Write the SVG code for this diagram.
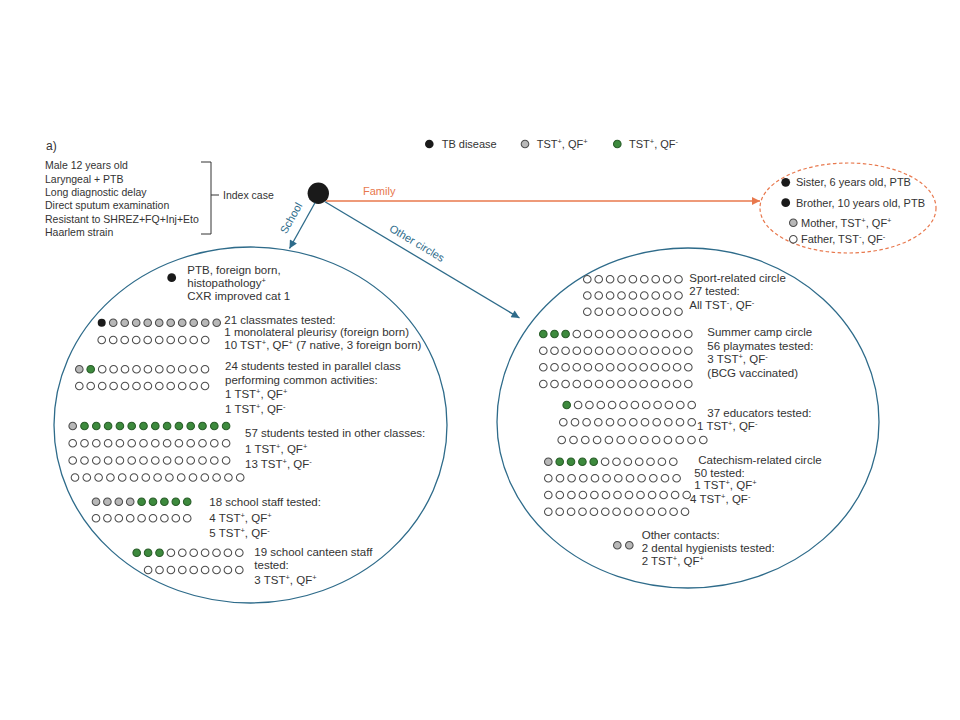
<svg xmlns="http://www.w3.org/2000/svg" xmlns:xlink="http://www.w3.org/1999/xlink" width="960" height="720" viewBox="0 0 960 720">
<style>
.t{font-family:"Liberation Sans",Arial,sans-serif;font-size:11.5px;fill:#333}
.s{font-family:"Liberation Sans",Arial,sans-serif;font-size:10.5px;fill:#333}
.f{font-size:11px}
.sup{font-size:7.5px}
.blue{fill:#2e6b8a}
.orange{fill:#e8784d}
.ring{fill:none;stroke:#2e6b8a;stroke-width:1.3}
.conn{fill:none;stroke-width:1.3}
</style>
<defs>
<circle id="o" r="3.8" fill="#fff" stroke="#4d4d4d" stroke-width="1.05"/>
<circle id="g" r="3.8" fill="#b8b8b8" stroke="#4d4d4d" stroke-width="1.05"/>
<circle id="n" r="3.8" fill="#3d8a3d" stroke="#2a5e2a" stroke-width="1.05"/>
<circle id="b" r="4" fill="#1a1a1a"/>
<marker id="ab" viewBox="0 0 10 10" refX="10" refY="5" markerWidth="9" markerHeight="8" markerUnits="userSpaceOnUse" orient="auto"><path d="M0,0 L10,5 L0,10 z" fill="#2e6b8a"/></marker>
<marker id="ao" viewBox="0 0 10 10" refX="10" refY="5" markerWidth="9" markerHeight="8" markerUnits="userSpaceOnUse" orient="auto"><path d="M0,0 L10,5 L0,10 z" fill="#e8784d"/></marker>
</defs>
<rect width="960" height="720" fill="#fff"/>

<g id="legend">
<text class="t" x="46" y="150" style="font-size:12px">a)</text>
<circle cx="429.3" cy="144" r="4.3" fill="#1a1a1a"/>
<text class="t f" x="441.7" y="148">TB disease</text>
<use href="#g" x="525" y="144"/>
<text class="t f" x="536.7" y="148">TST<tspan class="sup" dy="-4">+</tspan><tspan dy="4">, QF</tspan><tspan class="sup" dy="-4">+</tspan></text>
<use href="#n" x="617.3" y="144"/>
<text class="t f" x="629" y="148">TST<tspan class="sup" dy="-4">+</tspan><tspan dy="4">, QF</tspan><tspan class="sup" dy="-4">-</tspan></text>
</g>

<g id="index-case">
<text class="s" x="45" y="169.4">Male 12 years old</text>
<text class="s" x="45" y="182.7">Laryngeal + PTB</text>
<text class="s" x="45" y="196">Long diagnostic delay</text>
<text class="s" x="45" y="209.4">Direct sputum examination</text>
<text class="s" x="45" y="222.7">Resistant to SHREZ+FQ+Inj+Eto</text>
<text class="s" x="45" y="236">Haarlem strain</text>
<path d="M201,162 H211 V234 H201 M211,195 H219" fill="none" stroke="#333" stroke-width="1"/>
<text class="s" x="223" y="199">Index case</text>
<circle cx="318.3" cy="193.3" r="10.7" fill="#1a1a1a"/>
</g>

<g id="connectors">
<line class="conn" x1="326" y1="201" x2="760" y2="201" stroke="#e8784d" marker-end="url(#ao)"/>
<line class="conn" x1="315" y1="202.7" x2="289.5" y2="248.5" stroke="#2e6b8a" marker-end="url(#ab)"/>
<line class="conn" x1="325" y1="201.7" x2="519.5" y2="318" stroke="#2e6b8a" marker-end="url(#ab)"/>
<text class="t f orange" x="363" y="195">Family</text>
<text class="t f blue" transform="translate(291,218) rotate(-60.6)" x="0" y="4" text-anchor="middle">School</text>
<text class="t f blue" transform="translate(417,243) rotate(30.8)" x="0" y="4" text-anchor="middle">Other circles</text>
</g>

<g id="family">
<ellipse cx="848" cy="208" rx="88" ry="45" fill="none" stroke="#e8784d" stroke-width="1.2" stroke-dasharray="3.5 2.5"/>
<circle cx="785.7" cy="182.3" r="4.4" fill="#1a1a1a"/>
<text class="t f" x="796" y="186">Sister, 6 years old, PTB</text>
<circle cx="785.7" cy="202.7" r="4.4" fill="#1a1a1a"/>
<text class="t f" x="796" y="206.5">Brother, 10 years old, PTB</text>
<use href="#g" x="793.3" y="222.7"/>
<text class="t f" x="801" y="226.8">Mother, TST<tspan class="sup" dy="-4">+</tspan><tspan dy="4">, QF</tspan><tspan class="sup" dy="-4">+</tspan></text>
<use href="#o" x="793.3" y="239.3"/>
<text class="t f" x="801" y="243.4">Father, TST<tspan class="sup" dy="-4">-</tspan><tspan dy="4">, QF</tspan><tspan class="sup" dy="-4">-</tspan></text>
</g>

<g id="school">
<ellipse class="ring" cx="250.5" cy="425" rx="196.5" ry="178"/>
<circle cx="171.7" cy="277.7" r="4.4" fill="#1a1a1a"/>
<text class="t" x="187.3" y="273.5">PTB, foreign born,</text>
<text class="t" x="187.3" y="286.7">histopathology<tspan class="sup" dy="-4">+</tspan></text>
<text class="t" x="187.3" y="299.5">CXR improved cat 1</text>

<use href="#b" x="101.7" y="322.7"/><use href="#g" x="113.2" y="322.7"/><use href="#g" x="124.7" y="322.7"/><use href="#g" x="136.2" y="322.7"/><use href="#g" x="147.7" y="322.7"/><use href="#g" x="159.2" y="322.7"/><use href="#g" x="170.7" y="322.7"/><use href="#g" x="182.2" y="322.7"/><use href="#g" x="193.7" y="322.7"/><use href="#g" x="205.2" y="322.7"/><use href="#g" x="216.7" y="322.7"/>
<use href="#o" x="101.7" y="340"/><use href="#o" x="113.2" y="340"/><use href="#o" x="124.7" y="340"/><use href="#o" x="136.2" y="340"/><use href="#o" x="147.7" y="340"/><use href="#o" x="159.2" y="340"/><use href="#o" x="170.7" y="340"/><use href="#o" x="182.2" y="340"/><use href="#o" x="193.7" y="340"/><use href="#o" x="205.2" y="340"/>
<text class="t" x="224.3" y="323.5">21 classmates tested:</text>
<text class="t" x="224.3" y="336.3">1 monolateral pleurisy (foreign born)</text>
<text class="t" x="224.3" y="349.2">10 TST<tspan class="sup" dy="-4">+</tspan><tspan dy="4">, QF</tspan><tspan class="sup" dy="-4">+</tspan><tspan dy="4"> (7 native, 3 foreign born)</tspan></text>

<use href="#g" x="79.3" y="369.3"/><use href="#n" x="90.7" y="369.3"/><use href="#o" x="102.2" y="369.3"/><use href="#o" x="113.6" y="369.3"/><use href="#o" x="125" y="369.3"/><use href="#o" x="136.5" y="369.3"/><use href="#o" x="147.9" y="369.3"/><use href="#o" x="159.3" y="369.3"/><use href="#o" x="170.7" y="369.3"/><use href="#o" x="182.2" y="369.3"/><use href="#o" x="193.6" y="369.3"/><use href="#o" x="205" y="369.3"/>
<use href="#o" x="79.3" y="386"/><use href="#o" x="90.7" y="386"/><use href="#o" x="102.2" y="386"/><use href="#o" x="113.6" y="386"/><use href="#o" x="125" y="386"/><use href="#o" x="136.5" y="386"/><use href="#o" x="147.9" y="386"/><use href="#o" x="159.3" y="386"/><use href="#o" x="170.7" y="386"/><use href="#o" x="182.2" y="386"/><use href="#o" x="193.6" y="386"/><use href="#o" x="205" y="386"/>
<text class="t" x="225" y="370.2">24 students tested in parallel class</text>
<text class="t" x="225" y="383.6">performing common activities:</text>
<text class="t" x="225" y="398.4">1 TST<tspan class="sup" dy="-4">+</tspan><tspan dy="4">, QF</tspan><tspan class="sup" dy="-4">+</tspan></text>
<text class="t" x="225" y="413.3">1 TST<tspan class="sup" dy="-4">+</tspan><tspan dy="4">, QF</tspan><tspan class="sup" dy="-4">-</tspan></text>

<use href="#g" x="72.7" y="426"/><use href="#n" x="84.5" y="426"/><use href="#n" x="96.3" y="426"/><use href="#n" x="108.1" y="426"/><use href="#n" x="119.9" y="426"/><use href="#n" x="131.7" y="426"/><use href="#n" x="143.5" y="426"/><use href="#n" x="155.3" y="426"/><use href="#n" x="167.1" y="426"/><use href="#n" x="178.9" y="426"/><use href="#n" x="190.7" y="426"/><use href="#n" x="202.5" y="426"/><use href="#n" x="214.3" y="426"/><use href="#n" x="226.1" y="426"/>
<use href="#o" x="72.7" y="443.3"/><use href="#o" x="84.5" y="443.3"/><use href="#o" x="96.3" y="443.3"/><use href="#o" x="108.1" y="443.3"/><use href="#o" x="119.9" y="443.3"/><use href="#o" x="131.7" y="443.3"/><use href="#o" x="143.5" y="443.3"/><use href="#o" x="155.3" y="443.3"/><use href="#o" x="167.1" y="443.3"/><use href="#o" x="178.9" y="443.3"/><use href="#o" x="190.7" y="443.3"/><use href="#o" x="202.5" y="443.3"/><use href="#o" x="214.3" y="443.3"/><use href="#o" x="226.1" y="443.3"/>
<use href="#o" x="72.7" y="460.5"/><use href="#o" x="84.5" y="460.5"/><use href="#o" x="96.3" y="460.5"/><use href="#o" x="108.1" y="460.5"/><use href="#o" x="119.9" y="460.5"/><use href="#o" x="131.7" y="460.5"/><use href="#o" x="143.5" y="460.5"/><use href="#o" x="155.3" y="460.5"/><use href="#o" x="167.1" y="460.5"/><use href="#o" x="178.9" y="460.5"/><use href="#o" x="190.7" y="460.5"/><use href="#o" x="202.5" y="460.5"/><use href="#o" x="214.3" y="460.5"/><use href="#o" x="226.1" y="460.5"/>
<use href="#o" x="75" y="477.5"/><use href="#o" x="86.8" y="477.5"/><use href="#o" x="98.6" y="477.5"/><use href="#o" x="110.4" y="477.5"/><use href="#o" x="122.2" y="477.5"/><use href="#o" x="134" y="477.5"/><use href="#o" x="145.8" y="477.5"/><use href="#o" x="157.6" y="477.5"/><use href="#o" x="169.4" y="477.5"/><use href="#o" x="181.2" y="477.5"/><use href="#o" x="193" y="477.5"/><use href="#o" x="204.8" y="477.5"/><use href="#o" x="216.6" y="477.5"/><use href="#o" x="228.4" y="477.5"/><use href="#o" x="240.2" y="477.5"/>
<text class="t" x="245" y="436.7">57 students tested in other classes:</text>
<text class="t" x="245" y="452.5">1 TST<tspan class="sup" dy="-4">+</tspan><tspan dy="4">, QF</tspan><tspan class="sup" dy="-4">+</tspan></text>
<text class="t" x="245" y="467.5">13 TST<tspan class="sup" dy="-4">+</tspan><tspan dy="4">, QF</tspan><tspan class="sup" dy="-4">-</tspan></text>

<use href="#g" x="96" y="501.7"/><use href="#g" x="107.4" y="501.7"/><use href="#g" x="118.8" y="501.7"/><use href="#g" x="130.2" y="501.7"/><use href="#n" x="141.6" y="501.7"/><use href="#n" x="153" y="501.7"/><use href="#n" x="164.4" y="501.7"/><use href="#n" x="175.8" y="501.7"/><use href="#n" x="187.2" y="501.7"/>
<use href="#o" x="96" y="518.3"/><use href="#o" x="107.4" y="518.3"/><use href="#o" x="118.8" y="518.3"/><use href="#o" x="130.2" y="518.3"/><use href="#o" x="141.6" y="518.3"/><use href="#o" x="153" y="518.3"/><use href="#o" x="164.4" y="518.3"/><use href="#o" x="175.8" y="518.3"/><use href="#o" x="187.2" y="518.3"/>
<text class="t" x="209.3" y="505.7">18 school staff tested:</text>
<text class="t" x="209.3" y="521.7">4 TST<tspan class="sup" dy="-4">+</tspan><tspan dy="4">, QF</tspan><tspan class="sup" dy="-4">+</tspan></text>
<text class="t" x="209.3" y="536.7">5 TST<tspan class="sup" dy="-4">+</tspan><tspan dy="4">, QF</tspan><tspan class="sup" dy="-4">-</tspan></text>

<use href="#n" x="136.7" y="552.7"/><use href="#n" x="148.1" y="552.7"/><use href="#n" x="159.5" y="552.7"/><use href="#o" x="170.9" y="552.7"/><use href="#o" x="182.3" y="552.7"/><use href="#o" x="193.7" y="552.7"/><use href="#o" x="205.1" y="552.7"/><use href="#o" x="216.5" y="552.7"/><use href="#o" x="227.9" y="552.7"/><use href="#o" x="239.3" y="552.7"/>
<use href="#o" x="148.1" y="570"/><use href="#o" x="159.5" y="570"/><use href="#o" x="170.9" y="570"/><use href="#o" x="182.3" y="570"/><use href="#o" x="193.7" y="570"/><use href="#o" x="205.1" y="570"/><use href="#o" x="216.5" y="570"/><use href="#o" x="227.9" y="570"/><use href="#o" x="239.3" y="570"/>
<text class="t" x="254.3" y="555.7">19 school canteen staff</text>
<text class="t" x="254.3" y="569.3">tested:</text>
<text class="t" x="254.3" y="584">3 TST<tspan class="sup" dy="-4">+</tspan><tspan dy="4">, QF</tspan><tspan class="sup" dy="-4">+</tspan></text>
</g>

<g id="other-circles">
<path class="ring" d="M497,422 A191,174 0 0 1 879,422 A191,166 0 0 1 497,422 Z"/>

<use href="#o" x="587.3" y="279.3"/><use href="#o" x="598.7" y="279.3"/><use href="#o" x="610.1" y="279.3"/><use href="#o" x="621.5" y="279.3"/><use href="#o" x="632.9" y="279.3"/><use href="#o" x="644.3" y="279.3"/><use href="#o" x="655.7" y="279.3"/><use href="#o" x="667.1" y="279.3"/><use href="#o" x="678.5" y="279.3"/>
<use href="#o" x="587.3" y="295.5"/><use href="#o" x="598.7" y="295.5"/><use href="#o" x="610.1" y="295.5"/><use href="#o" x="621.5" y="295.5"/><use href="#o" x="632.9" y="295.5"/><use href="#o" x="644.3" y="295.5"/><use href="#o" x="655.7" y="295.5"/><use href="#o" x="667.1" y="295.5"/><use href="#o" x="678.5" y="295.5"/>
<use href="#o" x="587.3" y="311.8"/><use href="#o" x="598.7" y="311.8"/><use href="#o" x="610.1" y="311.8"/><use href="#o" x="621.5" y="311.8"/><use href="#o" x="632.9" y="311.8"/><use href="#o" x="644.3" y="311.8"/><use href="#o" x="655.7" y="311.8"/><use href="#o" x="667.1" y="311.8"/><use href="#o" x="678.5" y="311.8"/>
<text class="t" x="689.3" y="281.7">Sport-related circle</text>
<text class="t" x="689.3" y="295">27 tested:</text>
<text class="t" x="689.3" y="309.3">All TST<tspan class="sup" dy="-4">-</tspan><tspan dy="4">, QF</tspan><tspan class="sup" dy="-4">-</tspan></text>

<use href="#n" x="543.3" y="334"/><use href="#n" x="554.5" y="334"/><use href="#n" x="565.6" y="334"/><use href="#o" x="576.8" y="334"/><use href="#o" x="587.9" y="334"/><use href="#o" x="599.1" y="334"/><use href="#o" x="610.2" y="334"/><use href="#o" x="621.4" y="334"/><use href="#o" x="632.5" y="334"/><use href="#o" x="643.7" y="334"/><use href="#o" x="654.8" y="334"/><use href="#o" x="666" y="334"/><use href="#o" x="677.1" y="334"/><use href="#o" x="688.3" y="334"/>
<use href="#o" x="543.3" y="350.7"/><use href="#o" x="554.5" y="350.7"/><use href="#o" x="565.6" y="350.7"/><use href="#o" x="576.8" y="350.7"/><use href="#o" x="587.9" y="350.7"/><use href="#o" x="599.1" y="350.7"/><use href="#o" x="610.2" y="350.7"/><use href="#o" x="621.4" y="350.7"/><use href="#o" x="632.5" y="350.7"/><use href="#o" x="643.7" y="350.7"/><use href="#o" x="654.8" y="350.7"/><use href="#o" x="666" y="350.7"/><use href="#o" x="677.1" y="350.7"/><use href="#o" x="688.3" y="350.7"/>
<use href="#o" x="543.3" y="367.3"/><use href="#o" x="554.5" y="367.3"/><use href="#o" x="565.6" y="367.3"/><use href="#o" x="576.8" y="367.3"/><use href="#o" x="587.9" y="367.3"/><use href="#o" x="599.1" y="367.3"/><use href="#o" x="610.2" y="367.3"/><use href="#o" x="621.4" y="367.3"/><use href="#o" x="632.5" y="367.3"/><use href="#o" x="643.7" y="367.3"/><use href="#o" x="654.8" y="367.3"/><use href="#o" x="666" y="367.3"/><use href="#o" x="677.1" y="367.3"/><use href="#o" x="688.3" y="367.3"/>
<use href="#o" x="543.3" y="384"/><use href="#o" x="554.5" y="384"/><use href="#o" x="565.6" y="384"/><use href="#o" x="576.8" y="384"/><use href="#o" x="587.9" y="384"/><use href="#o" x="599.1" y="384"/><use href="#o" x="610.2" y="384"/><use href="#o" x="621.4" y="384"/><use href="#o" x="632.5" y="384"/><use href="#o" x="643.7" y="384"/><use href="#o" x="654.8" y="384"/><use href="#o" x="666" y="384"/><use href="#o" x="677.1" y="384"/><use href="#o" x="688.3" y="384"/>
<text class="t" x="707.3" y="336">Summer camp circle</text>
<text class="t" x="707.3" y="350">56 playmates tested:</text>
<text class="t" x="707.3" y="363.3">3 TST<tspan class="sup" dy="-4">+</tspan><tspan dy="4">, QF</tspan><tspan class="sup" dy="-4">-</tspan></text>
<text class="t" x="707.3" y="376.7">(BCG vaccinated)</text>

<use href="#n" x="566.7" y="405"/><use href="#o" x="578.1" y="405"/><use href="#o" x="589.4" y="405"/><use href="#o" x="600.8" y="405"/><use href="#o" x="612.1" y="405"/><use href="#o" x="623.5" y="405"/><use href="#o" x="634.9" y="405"/><use href="#o" x="646.2" y="405"/><use href="#o" x="657.6" y="405"/><use href="#o" x="668.9" y="405"/><use href="#o" x="680.3" y="405"/><use href="#o" x="691.7" y="405"/>
<use href="#o" x="563.3" y="422.3"/><use href="#o" x="575" y="422.3"/><use href="#o" x="586.6" y="422.3"/><use href="#o" x="598.3" y="422.3"/><use href="#o" x="610" y="422.3"/><use href="#o" x="621.6" y="422.3"/><use href="#o" x="633.3" y="422.3"/><use href="#o" x="645" y="422.3"/><use href="#o" x="656.7" y="422.3"/><use href="#o" x="668.3" y="422.3"/><use href="#o" x="680" y="422.3"/><use href="#o" x="691.7" y="422.3"/>
<use href="#o" x="561.7" y="440"/><use href="#o" x="573.5" y="440"/><use href="#o" x="585.3" y="440"/><use href="#o" x="597.1" y="440"/><use href="#o" x="608.9" y="440"/><use href="#o" x="620.7" y="440"/><use href="#o" x="632.5" y="440"/><use href="#o" x="644.3" y="440"/><use href="#o" x="656.1" y="440"/><use href="#o" x="667.9" y="440"/><use href="#o" x="679.7" y="440"/><use href="#o" x="691.5" y="440"/><use href="#o" x="703.3" y="440"/>
<text class="t" x="707.3" y="417.3">37 educators tested:</text>
<text class="t" x="697" y="429.5">1 TST<tspan class="sup" dy="-4">+</tspan><tspan dy="4">, QF</tspan><tspan class="sup" dy="-4">-</tspan></text>

<use href="#g" x="548.3" y="461.7"/><use href="#n" x="559.7" y="461.7"/><use href="#n" x="571" y="461.7"/><use href="#n" x="582.4" y="461.7"/><use href="#n" x="593.7" y="461.7"/><use href="#o" x="605.1" y="461.7"/><use href="#o" x="616.5" y="461.7"/><use href="#o" x="627.8" y="461.7"/><use href="#o" x="639.2" y="461.7"/><use href="#o" x="650.5" y="461.7"/><use href="#o" x="661.9" y="461.7"/><use href="#o" x="673.3" y="461.7"/>
<use href="#o" x="548.3" y="478.3"/><use href="#o" x="560" y="478.3"/><use href="#o" x="571.6" y="478.3"/><use href="#o" x="583.3" y="478.3"/><use href="#o" x="595" y="478.3"/><use href="#o" x="606.6" y="478.3"/><use href="#o" x="618.3" y="478.3"/><use href="#o" x="630" y="478.3"/><use href="#o" x="641.6" y="478.3"/><use href="#o" x="653.3" y="478.3"/><use href="#o" x="665" y="478.3"/><use href="#o" x="676.6" y="478.3"/>
<use href="#o" x="548.3" y="495"/><use href="#o" x="559.8" y="495"/><use href="#o" x="571.4" y="495"/><use href="#o" x="582.9" y="495"/><use href="#o" x="594.4" y="495"/><use href="#o" x="606" y="495"/><use href="#o" x="617.5" y="495"/><use href="#o" x="629" y="495"/><use href="#o" x="640.5" y="495"/><use href="#o" x="652.1" y="495"/><use href="#o" x="663.6" y="495"/><use href="#o" x="675.1" y="495"/><use href="#o" x="686.7" y="495"/>
<use href="#o" x="548.3" y="511.7"/><use href="#o" x="559.7" y="511.7"/><use href="#o" x="571.1" y="511.7"/><use href="#o" x="582.5" y="511.7"/><use href="#o" x="593.9" y="511.7"/><use href="#o" x="605.3" y="511.7"/><use href="#o" x="616.6" y="511.7"/><use href="#o" x="628" y="511.7"/><use href="#o" x="639.4" y="511.7"/><use href="#o" x="650.8" y="511.7"/><use href="#o" x="662.2" y="511.7"/><use href="#o" x="673.6" y="511.7"/><use href="#o" x="685" y="511.7"/>
<text class="t" x="698.3" y="464">Catechism-related circle</text>
<text class="t" x="694.3" y="477.3">50 tested:</text>
<text class="t" x="694.3" y="489.3">1 TST<tspan class="sup" dy="-4">+</tspan><tspan dy="4">, QF</tspan><tspan class="sup" dy="-4">+</tspan></text>
<text class="t" x="690" y="502.7">4 TST<tspan class="sup" dy="-4">+</tspan><tspan dy="4">, QF</tspan><tspan class="sup" dy="-4">-</tspan></text>

<use href="#g" x="617.3" y="545.3"/><use href="#g" x="629.3" y="545.3"/>
<text class="t" x="641.7" y="538.5">Other contacts:</text>
<text class="t" x="641.7" y="551.8">2 dental hygienists tested:</text>
<text class="t" x="641.7" y="565.2">2 TST<tspan class="sup" dy="-4">+</tspan><tspan dy="4">, QF</tspan><tspan class="sup" dy="-4">+</tspan></text>
</g>
</svg>
